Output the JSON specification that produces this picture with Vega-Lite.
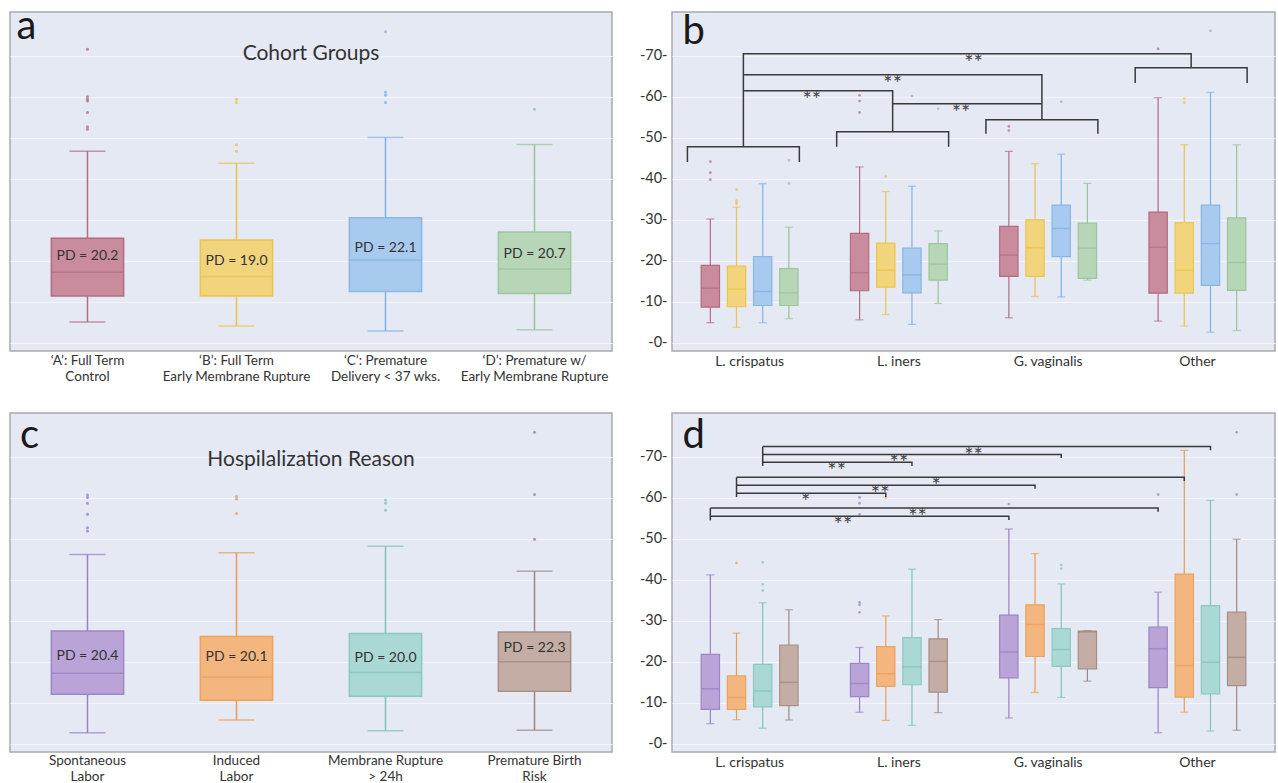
{
  "$schema": "https://vega.github.io/schema/vega-lite/v6.json",
  "background": "white",
  "padding": {"left": 9, "top": 6, "right": 0, "bottom": 0},
  "autosize": {"type": "pad"},
  "columns": 2,
  "spacing": {"row": 62, "column": 60},
  "bounds": "flush",
  "resolve": {"scale": {"x": "independent", "y": "independent", "fill": "independent", "stroke": "independent", "color": "independent", "xOffset": "independent"}},
  "datasets": {
    "boxA": [
      {"cat": "‘A’: Full Term\nControl", "g": "A", "lo": 5.1, "q1": 11.4, "med": 17.2, "q3": 25.5, "hi": 46.7, "pd": 20.2},
      {"cat": "‘B’: Full Term\nEarly Membrane Rupture", "g": "B", "lo": 4.1, "q1": 11.4, "med": 16.2, "q3": 25.1, "hi": 43.8, "pd": 19.0},
      {"cat": "‘C’: Premature\nDelivery < 37 wks.", "g": "C", "lo": 2.9, "q1": 12.5, "med": 20.2, "q3": 30.5, "hi": 50.1, "pd": 22.1},
      {"cat": "‘D’: Premature w/\nEarly Membrane Rupture", "g": "D", "lo": 3.2, "q1": 12.0, "med": 18.0, "q3": 27.0, "hi": 48.4, "pd": 20.7}
    ],
    "outA": [
      {"cat": "‘A’: Full Term\nControl", "g": "A", "v": 71.6},
      {"cat": "‘A’: Full Term\nControl", "g": "A", "v": 60.0},
      {"cat": "‘A’: Full Term\nControl", "g": "A", "v": 59.4},
      {"cat": "‘A’: Full Term\nControl", "g": "A", "v": 59.0},
      {"cat": "‘A’: Full Term\nControl", "g": "A", "v": 56.2},
      {"cat": "‘A’: Full Term\nControl", "g": "A", "v": 52.7},
      {"cat": "‘A’: Full Term\nControl", "g": "A", "v": 52.1},
      {"cat": "‘B’: Full Term\nEarly Membrane Rupture", "g": "B", "v": 59.4},
      {"cat": "‘B’: Full Term\nEarly Membrane Rupture", "g": "B", "v": 58.6},
      {"cat": "‘B’: Full Term\nEarly Membrane Rupture", "g": "B", "v": 48.3},
      {"cat": "‘B’: Full Term\nEarly Membrane Rupture", "g": "B", "v": 46.7},
      {"cat": "‘C’: Premature\nDelivery < 37 wks.", "g": "C", "v": 75.9},
      {"cat": "‘C’: Premature\nDelivery < 37 wks.", "g": "C", "v": 61.1},
      {"cat": "‘C’: Premature\nDelivery < 37 wks.", "g": "C", "v": 60.4},
      {"cat": "‘C’: Premature\nDelivery < 37 wks.", "g": "C", "v": 58.6},
      {"cat": "‘D’: Premature w/\nEarly Membrane Rupture", "g": "D", "v": 57.0}
    ],
    "boxC": [
      {"cat": "Spontaneous\nLabor", "g": "S", "lo": 2.7, "q1": 12.1, "med": 17.2, "q3": 27.5, "hi": 46.2, "pd": 20.4},
      {"cat": "Induced\nLabor", "g": "I", "lo": 5.8, "q1": 10.6, "med": 16.3, "q3": 26.2, "hi": 46.6, "pd": 20.1},
      {"cat": "Membrane Rupture\n> 24h", "g": "M", "lo": 3.2, "q1": 11.6, "med": 17.4, "q3": 26.9, "hi": 48.2, "pd": 20.0},
      {"cat": "Premature Birth\nRisk", "g": "P", "lo": 3.3, "q1": 12.8, "med": 20.0, "q3": 27.3, "hi": 42.1, "pd": 22.3}
    ],
    "outC": [
      {"cat": "Spontaneous\nLabor", "g": "S", "v": 60.7},
      {"cat": "Spontaneous\nLabor", "g": "S", "v": 60.1},
      {"cat": "Spontaneous\nLabor", "g": "S", "v": 58.7},
      {"cat": "Spontaneous\nLabor", "g": "S", "v": 56.0},
      {"cat": "Spontaneous\nLabor", "g": "S", "v": 52.7},
      {"cat": "Spontaneous\nLabor", "g": "S", "v": 51.9},
      {"cat": "Induced\nLabor", "g": "I", "v": 60.3},
      {"cat": "Induced\nLabor", "g": "I", "v": 59.7},
      {"cat": "Induced\nLabor", "g": "I", "v": 56.2},
      {"cat": "Membrane Rupture\n> 24h", "g": "M", "v": 59.5},
      {"cat": "Membrane Rupture\n> 24h", "g": "M", "v": 58.7},
      {"cat": "Membrane Rupture\n> 24h", "g": "M", "v": 57.0},
      {"cat": "Premature Birth\nRisk", "g": "P", "v": 76.0},
      {"cat": "Premature Birth\nRisk", "g": "P", "v": 60.8},
      {"cat": "Premature Birth\nRisk", "g": "P", "v": 49.9}
    ],
    "boxB": [
      {"taxon": "L. crispatus", "g": "A", "lo": 4.9, "q1": 8.7, "med": 13.3, "q3": 18.9, "hi": 30.2},
      {"taxon": "L. crispatus", "g": "B", "lo": 3.8, "q1": 8.8, "med": 13.1, "q3": 18.7, "hi": 33.1},
      {"taxon": "L. crispatus", "g": "C", "lo": 4.9, "q1": 9.1, "med": 12.5, "q3": 21.0, "hi": 38.8},
      {"taxon": "L. crispatus", "g": "D", "lo": 5.9, "q1": 9.1, "med": 12.2, "q3": 18.1, "hi": 28.2},
      {"taxon": "L. iners", "g": "A", "lo": 5.6, "q1": 12.7, "med": 17.1, "q3": 26.7, "hi": 42.9},
      {"taxon": "L. iners", "g": "B", "lo": 6.9, "q1": 13.6, "med": 17.7, "q3": 24.3, "hi": 36.9},
      {"taxon": "L. iners", "g": "C", "lo": 4.5, "q1": 12.2, "med": 16.6, "q3": 23.1, "hi": 38.2},
      {"taxon": "L. iners", "g": "D", "lo": 9.6, "q1": 15.3, "med": 19.2, "q3": 24.2, "hi": 27.3},
      {"taxon": "G. vaginalis", "g": "A", "lo": 6.1, "q1": 16.2, "med": 21.4, "q3": 28.4, "hi": 46.7},
      {"taxon": "G. vaginalis", "g": "B", "lo": 11.3, "q1": 16.2, "med": 23.2, "q3": 30.0, "hi": 43.7},
      {"taxon": "G. vaginalis", "g": "C", "lo": 11.2, "q1": 21.0, "med": 27.9, "q3": 33.6, "hi": 46.0},
      {"taxon": "G. vaginalis", "g": "D", "lo": 15.3, "q1": 15.7, "med": 23.1, "q3": 29.2, "hi": 38.9},
      {"taxon": "Other", "g": "A", "lo": 5.3, "q1": 12.1, "med": 23.3, "q3": 31.9, "hi": 59.8},
      {"taxon": "Other", "g": "B", "lo": 4.1, "q1": 12.1, "med": 17.7, "q3": 29.3, "hi": 48.3},
      {"taxon": "Other", "g": "C", "lo": 2.6, "q1": 14.0, "med": 24.2, "q3": 33.6, "hi": 61.1},
      {"taxon": "Other", "g": "D", "lo": 3.0, "q1": 12.8, "med": 19.6, "q3": 30.5, "hi": 48.3}
    ],
    "outB": [
      {"taxon": "L. crispatus", "g": "A", "v": 44.2},
      {"taxon": "L. crispatus", "g": "A", "v": 41.5},
      {"taxon": "L. crispatus", "g": "A", "v": 39.8},
      {"taxon": "L. crispatus", "g": "B", "v": 37.4},
      {"taxon": "L. crispatus", "g": "B", "v": 34.7},
      {"taxon": "L. crispatus", "g": "B", "v": 34.3},
      {"taxon": "L. crispatus", "g": "B", "v": 33.9},
      {"taxon": "L. crispatus", "g": "D", "v": 44.5},
      {"taxon": "L. crispatus", "g": "D", "v": 38.9},
      {"taxon": "L. iners", "g": "A", "v": 60.4},
      {"taxon": "L. iners", "g": "A", "v": 59.0},
      {"taxon": "L. iners", "g": "A", "v": 56.2},
      {"taxon": "L. iners", "g": "B", "v": 40.6},
      {"taxon": "L. iners", "g": "C", "v": 60.2},
      {"taxon": "L. iners", "g": "D", "v": 57.1},
      {"taxon": "G. vaginalis", "g": "A", "v": 52.8},
      {"taxon": "G. vaginalis", "g": "A", "v": 51.8},
      {"taxon": "G. vaginalis", "g": "C", "v": 58.8},
      {"taxon": "Other", "g": "A", "v": 71.7},
      {"taxon": "Other", "g": "B", "v": 59.6},
      {"taxon": "Other", "g": "B", "v": 58.6},
      {"taxon": "Other", "g": "C", "v": 76.1}
    ],
    "brB": [
      {"id": "g1", "o": 1, "taxon": "L. crispatus", "slot": "2", "y": 44.1},
      {"id": "g1", "o": 2, "taxon": "L. crispatus", "slot": "2", "y": 47.8},
      {"id": "g1", "o": 3, "taxon": "L. crispatus", "slot": "20", "y": 47.8},
      {"id": "g1", "o": 4, "taxon": "L. crispatus", "slot": "20", "y": 44.1},
      {"id": "g2", "o": 1, "taxon": "L. iners", "slot": "2", "y": 47.8},
      {"id": "g2", "o": 2, "taxon": "L. iners", "slot": "2", "y": 51.5},
      {"id": "g2", "o": 3, "taxon": "L. iners", "slot": "20", "y": 51.5},
      {"id": "g2", "o": 4, "taxon": "L. iners", "slot": "20", "y": 47.8},
      {"id": "g3", "o": 1, "taxon": "G. vaginalis", "slot": "2", "y": 51.0},
      {"id": "g3", "o": 2, "taxon": "G. vaginalis", "slot": "2", "y": 54.4},
      {"id": "g3", "o": 3, "taxon": "G. vaginalis", "slot": "20", "y": 54.4},
      {"id": "g3", "o": 4, "taxon": "G. vaginalis", "slot": "20", "y": 51.0},
      {"id": "g4", "o": 1, "taxon": "Other", "slot": "2", "y": 63.4},
      {"id": "g4", "o": 2, "taxon": "Other", "slot": "2", "y": 67.1},
      {"id": "g4", "o": 3, "taxon": "Other", "slot": "20", "y": 67.1},
      {"id": "g4", "o": 4, "taxon": "Other", "slot": "20", "y": 63.4},
      {"id": "s1", "o": 1, "taxon": "L. crispatus", "slot": "11", "y": 47.8},
      {"id": "s1", "o": 2, "taxon": "L. crispatus", "slot": "11", "y": 70.5},
      {"id": "s1", "o": 3, "taxon": "Other", "slot": "11", "y": 70.5},
      {"id": "s1", "o": 4, "taxon": "Other", "slot": "11", "y": 67.1},
      {"id": "s2", "o": 1, "taxon": "L. crispatus", "slot": "11", "y": 65.4},
      {"id": "s2", "o": 2, "taxon": "G. vaginalis", "slot": "11", "y": 65.4},
      {"id": "s2", "o": 3, "taxon": "G. vaginalis", "slot": "11", "y": 54.4},
      {"id": "s3", "o": 1, "taxon": "L. crispatus", "slot": "11", "y": 61.5},
      {"id": "s3", "o": 2, "taxon": "L. iners", "slot": "11", "y": 61.5},
      {"id": "s3", "o": 3, "taxon": "L. iners", "slot": "11", "y": 51.5},
      {"id": "s4", "o": 1, "taxon": "L. iners", "slot": "11", "y": 58.3},
      {"id": "s4", "o": 2, "taxon": "G. vaginalis", "slot": "11", "y": 58.3}
    ],
    "txB": [
      {"taxon": "L. iners", "slot": "24", "y": 70.5, "t": "**"},
      {"taxon": "L. iners", "slot": "11", "y": 65.4, "t": "**"},
      {"taxon": "L. crispatus", "slot": "22", "y": 61.5, "t": "**"},
      {"taxon": "L. iners", "slot": "22", "y": 58.3, "t": "**"}
    ],
    "boxD": [
      {"taxon": "L. crispatus", "g": "S", "lo": 4.9, "q1": 8.4, "med": 13.4, "q3": 21.8, "hi": 41.2},
      {"taxon": "L. crispatus", "g": "I", "lo": 5.9, "q1": 8.4, "med": 11.3, "q3": 16.6, "hi": 27.0},
      {"taxon": "L. crispatus", "g": "M", "lo": 3.8, "q1": 9.0, "med": 12.9, "q3": 19.4, "hi": 34.4},
      {"taxon": "L. crispatus", "g": "P", "lo": 5.8, "q1": 9.3, "med": 15.0, "q3": 24.1, "hi": 32.7},
      {"taxon": "L. iners", "g": "S", "lo": 7.7, "q1": 11.5, "med": 14.7, "q3": 19.6, "hi": 23.5},
      {"taxon": "L. iners", "g": "I", "lo": 5.7, "q1": 14.0, "med": 17.1, "q3": 23.7, "hi": 31.2},
      {"taxon": "L. iners", "g": "M", "lo": 4.5, "q1": 14.4, "med": 18.8, "q3": 25.9, "hi": 42.6},
      {"taxon": "L. iners", "g": "P", "lo": 7.6, "q1": 12.6, "med": 20.1, "q3": 25.6, "hi": 30.3},
      {"taxon": "G. vaginalis", "g": "S", "lo": 6.3, "q1": 16.1, "med": 22.4, "q3": 31.4, "hi": 52.4},
      {"taxon": "G. vaginalis", "g": "I", "lo": 12.5, "q1": 21.3, "med": 29.1, "q3": 33.9, "hi": 46.4},
      {"taxon": "G. vaginalis", "g": "M", "lo": 11.3, "q1": 18.9, "med": 23.0, "q3": 28.1, "hi": 39.0},
      {"taxon": "G. vaginalis", "g": "P", "lo": 15.3, "q1": 18.3, "med": 27.3, "q3": 27.5, "hi": 27.6},
      {"taxon": "Other", "g": "S", "lo": 2.7, "q1": 13.7, "med": 23.2, "q3": 28.5, "hi": 37.0},
      {"taxon": "Other", "g": "I", "lo": 7.7, "q1": 11.4, "med": 19.1, "q3": 41.4, "hi": 71.6},
      {"taxon": "Other", "g": "M", "lo": 3.1, "q1": 12.2, "med": 19.9, "q3": 33.7, "hi": 59.4},
      {"taxon": "Other", "g": "P", "lo": 3.3, "q1": 14.2, "med": 21.1, "q3": 32.1, "hi": 49.9}
    ],
    "outD": [
      {"taxon": "L. crispatus", "g": "I", "v": 44.1},
      {"taxon": "L. crispatus", "g": "M", "v": 44.3},
      {"taxon": "L. crispatus", "g": "M", "v": 38.9},
      {"taxon": "L. crispatus", "g": "M", "v": 37.4},
      {"taxon": "L. iners", "g": "S", "v": 60.1},
      {"taxon": "L. iners", "g": "S", "v": 58.7},
      {"taxon": "L. iners", "g": "S", "v": 56.0},
      {"taxon": "L. iners", "g": "S", "v": 34.5},
      {"taxon": "L. iners", "g": "S", "v": 33.9},
      {"taxon": "L. iners", "g": "S", "v": 32.1},
      {"taxon": "L. iners", "g": "I", "v": 60.1},
      {"taxon": "G. vaginalis", "g": "S", "v": 58.5},
      {"taxon": "G. vaginalis", "g": "M", "v": 43.6},
      {"taxon": "G. vaginalis", "g": "M", "v": 42.7},
      {"taxon": "Other", "g": "S", "v": 60.8},
      {"taxon": "Other", "g": "P", "v": 76.0},
      {"taxon": "Other", "g": "P", "v": 60.8}
    ],
    "brD": [
      {"id": "d1", "o": 1, "taxon": "L. crispatus", "g": "M", "y": 72.5},
      {"id": "d1", "o": 2, "taxon": "Other", "g": "M", "y": 72.5},
      {"id": "d1", "o": 3, "taxon": "Other", "g": "M", "y": 71.6},
      {"id": "d2", "o": 1, "taxon": "L. crispatus", "g": "M", "y": 70.6},
      {"id": "d2", "o": 2, "taxon": "G. vaginalis", "g": "M", "y": 70.6},
      {"id": "d2", "o": 3, "taxon": "G. vaginalis", "g": "M", "y": 69.7},
      {"id": "d3", "o": 1, "taxon": "L. crispatus", "g": "M", "y": 68.7},
      {"id": "d3", "o": 2, "taxon": "L. iners", "g": "M", "y": 68.7},
      {"id": "d3", "o": 3, "taxon": "L. iners", "g": "M", "y": 67.8},
      {"id": "dM", "o": 1, "taxon": "L. crispatus", "g": "M", "y": 72.5},
      {"id": "dM", "o": 2, "taxon": "L. crispatus", "g": "M", "y": 67.8},
      {"id": "d4", "o": 1, "taxon": "L. crispatus", "g": "I", "y": 65.0},
      {"id": "d4", "o": 2, "taxon": "Other", "g": "I", "y": 65.0},
      {"id": "d4", "o": 3, "taxon": "Other", "g": "I", "y": 64.1},
      {"id": "d5", "o": 1, "taxon": "L. crispatus", "g": "I", "y": 63.1},
      {"id": "d5", "o": 2, "taxon": "G. vaginalis", "g": "I", "y": 63.1},
      {"id": "d5", "o": 3, "taxon": "G. vaginalis", "g": "I", "y": 62.2},
      {"id": "d6", "o": 1, "taxon": "L. crispatus", "g": "I", "y": 61.1},
      {"id": "d6", "o": 2, "taxon": "L. iners", "g": "I", "y": 61.1},
      {"id": "d6", "o": 3, "taxon": "L. iners", "g": "I", "y": 60.2},
      {"id": "dI", "o": 1, "taxon": "L. crispatus", "g": "I", "y": 65.0},
      {"id": "dI", "o": 2, "taxon": "L. crispatus", "g": "I", "y": 60.2},
      {"id": "d7", "o": 1, "taxon": "L. crispatus", "g": "S", "y": 57.5},
      {"id": "d7", "o": 2, "taxon": "Other", "g": "S", "y": 57.5},
      {"id": "d7", "o": 3, "taxon": "Other", "g": "S", "y": 56.6},
      {"id": "d8", "o": 1, "taxon": "L. crispatus", "g": "S", "y": 55.5},
      {"id": "d8", "o": 2, "taxon": "G. vaginalis", "g": "S", "y": 55.5},
      {"id": "d8", "o": 3, "taxon": "G. vaginalis", "g": "S", "y": 54.6},
      {"id": "dS", "o": 1, "taxon": "L. crispatus", "g": "S", "y": 57.5},
      {"id": "dS", "o": 2, "taxon": "L. crispatus", "g": "S", "y": 54.5}
    ],
    "txD": [
      {"taxon": "L. iners", "slot": "24", "y": 72.5, "t": "**"},
      {"taxon": "L. iners", "slot": "12", "y": 70.6, "t": "**"},
      {"taxon": "L. iners", "slot": "2", "y": 68.7, "t": "**"},
      {"taxon": "L. iners", "slot": "18", "y": 65.0, "t": "*"},
      {"taxon": "L. iners", "slot": "9", "y": 63.1, "t": "**"},
      {"taxon": "L. crispatus", "slot": "21", "y": 61.1, "t": "*"},
      {"taxon": "L. iners", "slot": "15", "y": 57.5, "t": "**"},
      {"taxon": "L. iners", "slot": "3", "y": 55.5, "t": "**"}
    ]
  },
  "concat": [
    {
      "width": 602, "height": 339,
      "title": {"text": "Cohort Groups", "orient": "top", "anchor": "middle", "offset": -68, "baseline": "middle", "fontSize": 21, "fontWeight": "normal", "font": "Lato", "color": "#333333"},
      "layer": [
        {"data": {"name": "boxA"}, "mark": {"type": "rule", "strokeWidth": 1.5},
         "encoding": {
           "x": {"field": "cat", "type": "nominal", "title": null, "scale": {"domain": ["‘A’: Full Term\nControl", "‘B’: Full Term\nEarly Membrane Rupture", "‘C’: Premature\nDelivery < 37 wks.", "‘D’: Premature w/\nEarly Membrane Rupture"], "paddingInner": 0, "paddingOuter": 0.02}, "axis": {"labelExpr": "split(datum.label, '\\n')", "labelLineHeight": 16.5, "labelFontSize": 13.5, "labelPadding": 2, "labelBaseline": "top"}},
           "y": {"field": "lo", "type": "quantitative", "title": null, "scale": {"domain": [-2, 80.7], "nice": false, "zero": false}, "axis": {"labels": false, "values": [0, 10, 20, 30, 40, 50, 60, 70]}},
           "y2": {"field": "hi"},
           "color": {"field": "g", "type": "nominal", "legend": null, "scale": {"domain": ["A", "B", "C", "D"], "range": ["#b36c81", "#ebc24c", "#80b1e4", "#98c39a"]}}
         }},
        {"data": {"name": "boxA"}, "mark": {"type": "bar", "width": {"band": 0.485}, "strokeWidth": 1.5},
         "encoding": {
           "x": {"field": "cat", "type": "nominal"},
           "y": {"field": "q1", "type": "quantitative"},
           "y2": {"field": "q3"},
           "fill": {"field": "g", "type": "nominal", "legend": null, "scale": {"domain": ["A", "B", "C", "D"], "range": ["#c98c9d", "#f2d47c", "#a8caef", "#b7d6b8"]}},
           "stroke": {"field": "g", "type": "nominal", "legend": null, "scale": {"domain": ["A", "B", "C", "D"], "range": ["#b46a80", "#ecc44e", "#88b6e6", "#9bc59d"]}}
         }},
        {"data": {"name": "boxA"}, "mark": {"type": "tick", "size": 36, "thickness": 1.5},
         "encoding": {"x": {"field": "cat", "type": "nominal"}, "y": {"field": "lo", "type": "quantitative"}, "color": {"field": "g", "type": "nominal"}}},
        {"data": {"name": "boxA"}, "mark": {"type": "tick", "size": 36, "thickness": 1.5},
         "encoding": {"x": {"field": "cat", "type": "nominal"}, "y": {"field": "hi", "type": "quantitative"}, "color": {"field": "g", "type": "nominal"}}},
        {"data": {"name": "boxA"}, "mark": {"type": "tick", "size": 72, "thickness": 1.5},
         "encoding": {"x": {"field": "cat", "type": "nominal"}, "y": {"field": "med", "type": "quantitative"}, "color": {"field": "g", "type": "nominal"}}},
        {"data": {"name": "boxA"}, "mark": {"type": "text", "fontSize": 14, "font": "Lato", "baseline": "alphabetic", "color": "#333333", "text": {"expr": "'PD = ' + format(datum.pd, '.1f')"}},
         "encoding": {"x": {"field": "cat", "type": "nominal"}, "y": {"field": "pd", "type": "quantitative"}}},
        {"data": {"name": "outA"}, "mark": {"type": "point", "filled": true, "size": 9, "opacity": 0.8},
         "encoding": {"x": {"field": "cat", "type": "nominal"}, "y": {"field": "v", "type": "quantitative"}, "color": {"field": "g", "type": "nominal"}}},
        {"data": {"values": [{}]}, "mark": {"type": "text", "text": "a", "fontSize": 40, "font": "Lato", "dx": -61, "baseline": "alphabetic", "color": "#1a1a1a"},
         "encoding": {"x": {"datum": "‘A’: Full Term\nControl", "type": "nominal"}, "y": {"datum": 74, "type": "quantitative"}}}
      ]
    },
    {
      "width": 603, "height": 339,
      "layer": [
        {"layer": [
          {"data": {"name": "boxB"}, "mark": {"type": "rule", "strokeWidth": 1.2},
           "encoding": {
             "x": {"field": "taxon", "type": "nominal", "title": null, "scale": {"domain": ["L. crispatus", "L. iners", "G. vaginalis", "Other"], "paddingInner": 0, "paddingOuter": 0.02}, "axis": {"labelPadding": 3}},
             "xOffset": {"field": "g", "type": "nominal", "scale": {"domain": ["A", "B", "C", "D"], "paddingInner": 0.3, "paddingOuter": 1.02}},
             "y": {"field": "lo", "type": "quantitative", "title": null, "scale": {"domain": [-2, 80.7], "nice": false, "zero": false}, "axis": {"values": [0, 10, 20, 30, 40, 50, 60, 70]}},
             "y2": {"field": "hi"},
             "color": {"field": "g", "type": "nominal", "legend": null, "scale": {"domain": ["A", "B", "C", "D"], "range": ["#b36c81", "#ebc24c", "#80b1e4", "#98c39a"]}}
           }},
          {"data": {"name": "boxB"}, "mark": {"type": "bar", "strokeWidth": 1.2},
           "encoding": {
             "x": {"field": "taxon", "type": "nominal"},
             "xOffset": {"field": "g", "type": "nominal"},
             "y": {"field": "q1", "type": "quantitative"},
             "y2": {"field": "q3"},
             "fill": {"field": "g", "type": "nominal", "legend": null, "scale": {"domain": ["A", "B", "C", "D"], "range": ["#c98c9d", "#f2d47c", "#a8caef", "#b7d6b8"]}},
             "stroke": {"field": "g", "type": "nominal", "legend": null, "scale": {"domain": ["A", "B", "C", "D"], "range": ["#b46a80", "#ecc44e", "#88b6e6", "#9bc59d"]}}
           }},
          {"data": {"name": "boxB"}, "mark": {"type": "tick", "size": 8, "thickness": 1.2},
           "encoding": {"x": {"field": "taxon", "type": "nominal"}, "xOffset": {"field": "g", "type": "nominal"}, "y": {"field": "lo", "type": "quantitative"}, "color": {"field": "g", "type": "nominal"}}},
          {"data": {"name": "boxB"}, "mark": {"type": "tick", "size": 8, "thickness": 1.2},
           "encoding": {"x": {"field": "taxon", "type": "nominal"}, "xOffset": {"field": "g", "type": "nominal"}, "y": {"field": "hi", "type": "quantitative"}, "color": {"field": "g", "type": "nominal"}}},
          {"data": {"name": "boxB"}, "mark": {"type": "tick", "size": 18, "thickness": 1.5},
           "encoding": {"x": {"field": "taxon", "type": "nominal"}, "xOffset": {"field": "g", "type": "nominal"}, "y": {"field": "med", "type": "quantitative"}, "color": {"field": "g", "type": "nominal"}}},
          {"data": {"name": "outB"}, "mark": {"type": "point", "filled": true, "size": 7, "opacity": 0.75},
           "encoding": {"x": {"field": "taxon", "type": "nominal"}, "xOffset": {"field": "g", "type": "nominal"}, "y": {"field": "v", "type": "quantitative"}, "color": {"field": "g", "type": "nominal"}}}
        ]},
        {"layer": [
          {"data": {"name": "brB"}, "mark": {"type": "line", "color": "#3a3a3a", "strokeWidth": 1.5},
           "encoding": {
             "x": {"field": "taxon", "type": "nominal"},
             "xOffset": {"field": "slot", "type": "nominal", "scale": {"type": "point", "padding": 0, "domain": ["0","1","2","3","4","5","6","7","8","9","10","11","12","13","14","15","16","17","18","19","20","21","22","23","24"]}},
             "y": {"field": "y", "type": "quantitative"},
             "detail": {"field": "id", "type": "nominal"},
             "order": {"field": "o", "type": "quantitative"}
           }},
          {"data": {"name": "txB"}, "mark": {"type": "text", "fontSize": 22, "font": "Lato", "baseline": "top", "dy": -1, "color": "#444444"},
           "encoding": {"x": {"field": "taxon", "type": "nominal"}, "xOffset": {"field": "slot", "type": "nominal"}, "y": {"field": "y", "type": "quantitative"}, "text": {"field": "t"}}},
          {"data": {"values": [{}]}, "mark": {"type": "text", "text": "b", "fontSize": 40, "font": "Lato", "baseline": "alphabetic", "color": "#1a1a1a"},
           "encoding": {"x": {"datum": "L. crispatus", "type": "nominal"}, "xOffset": {"datum": "3", "type": "nominal"}, "y": {"datum": 72.9, "type": "quantitative"}}}
        ]}
      ],
      "resolve": {"scale": {"xOffset": "independent"}}
    },
    {
      "width": 602, "height": 339,
      "title": {"text": "Hospilalization Reason", "orient": "top", "anchor": "middle", "offset": -68, "baseline": "middle", "fontSize": 21, "fontWeight": "normal", "font": "Lato", "color": "#333333"},
      "layer": [
        {"data": {"name": "boxC"}, "mark": {"type": "rule", "strokeWidth": 1.5},
         "encoding": {
           "x": {"field": "cat", "type": "nominal", "title": null, "scale": {"domain": ["Spontaneous\nLabor", "Induced\nLabor", "Membrane Rupture\n> 24h", "Premature Birth\nRisk"], "paddingInner": 0, "paddingOuter": 0.02}, "axis": {"labelExpr": "split(datum.label, '\\n')", "labelLineHeight": 16, "labelFontSize": 13.5, "labelPadding": 1, "labelBaseline": "top"}},
           "y": {"field": "lo", "type": "quantitative", "title": null, "scale": {"domain": [-2, 80.7], "nice": false, "zero": false}, "axis": {"labels": false, "values": [0, 10, 20, 30, 40, 50, 60, 70]}},
           "y2": {"field": "hi"},
           "color": {"field": "g", "type": "nominal", "legend": null, "scale": {"domain": ["S", "I", "M", "P"], "range": ["#9a80c4", "#ec9c52", "#80c2bc", "#a08880"]}}
         }},
        {"data": {"name": "boxC"}, "mark": {"type": "bar", "width": {"band": 0.485}, "strokeWidth": 1.5},
         "encoding": {
           "x": {"field": "cat", "type": "nominal"},
           "y": {"field": "q1", "type": "quantitative"},
           "y2": {"field": "q3"},
           "fill": {"field": "g", "type": "nominal", "legend": null, "scale": {"domain": ["S", "I", "M", "P"], "range": ["#b9a3d7", "#f3b67e", "#aad8d4", "#c4ada4"]}},
           "stroke": {"field": "g", "type": "nominal", "legend": null, "scale": {"domain": ["S", "I", "M", "P"], "range": ["#9e85c6", "#eea25c", "#8cc8c2", "#a68f86"]}}
         }},
        {"data": {"name": "boxC"}, "mark": {"type": "tick", "size": 36, "thickness": 1.5},
         "encoding": {"x": {"field": "cat", "type": "nominal"}, "y": {"field": "lo", "type": "quantitative"}, "color": {"field": "g", "type": "nominal"}}},
        {"data": {"name": "boxC"}, "mark": {"type": "tick", "size": 36, "thickness": 1.5},
         "encoding": {"x": {"field": "cat", "type": "nominal"}, "y": {"field": "hi", "type": "quantitative"}, "color": {"field": "g", "type": "nominal"}}},
        {"data": {"name": "boxC"}, "mark": {"type": "tick", "size": 72, "thickness": 1.5},
         "encoding": {"x": {"field": "cat", "type": "nominal"}, "y": {"field": "med", "type": "quantitative"}, "color": {"field": "g", "type": "nominal"}}},
        {"data": {"name": "boxC"}, "mark": {"type": "text", "fontSize": 14, "font": "Lato", "baseline": "alphabetic", "color": "#333333", "text": {"expr": "'PD = ' + format(datum.pd, '.1f')"}},
         "encoding": {"x": {"field": "cat", "type": "nominal"}, "y": {"field": "pd", "type": "quantitative"}}},
        {"data": {"name": "outC"}, "mark": {"type": "point", "filled": true, "size": 9, "opacity": 0.8},
         "encoding": {"x": {"field": "cat", "type": "nominal"}, "y": {"field": "v", "type": "quantitative"}, "color": {"field": "g", "type": "nominal"}}},
        {"data": {"values": [{}]}, "mark": {"type": "text", "text": "c", "fontSize": 40, "font": "Lato", "dx": -58, "baseline": "alphabetic", "color": "#1a1a1a"},
         "encoding": {"x": {"datum": "Spontaneous\nLabor", "type": "nominal"}, "y": {"datum": 72.1, "type": "quantitative"}}}
      ]
    },
    {
      "width": 603, "height": 339,
      "layer": [
        {"layer": [
          {"data": {"name": "boxD"}, "mark": {"type": "rule", "strokeWidth": 1.2},
           "encoding": {
             "x": {"field": "taxon", "type": "nominal", "title": null, "scale": {"domain": ["L. crispatus", "L. iners", "G. vaginalis", "Other"], "paddingInner": 0, "paddingOuter": 0.02}, "axis": {"labelPadding": 3}},
             "xOffset": {"field": "g", "type": "nominal", "scale": {"domain": ["S", "I", "M", "P"], "paddingInner": 0.3, "paddingOuter": 1.02}},
             "y": {"field": "lo", "type": "quantitative", "title": null, "scale": {"domain": [-2, 80.7], "nice": false, "zero": false}, "axis": {"values": [0, 10, 20, 30, 40, 50, 60, 70]}},
             "y2": {"field": "hi"},
             "color": {"field": "g", "type": "nominal", "legend": null, "scale": {"domain": ["S", "I", "M", "P"], "range": ["#9a80c4", "#ec9c52", "#80c2bc", "#a08880"]}}
           }},
          {"data": {"name": "boxD"}, "mark": {"type": "bar", "strokeWidth": 1.2},
           "encoding": {
             "x": {"field": "taxon", "type": "nominal"},
             "xOffset": {"field": "g", "type": "nominal"},
             "y": {"field": "q1", "type": "quantitative"},
             "y2": {"field": "q3"},
             "fill": {"field": "g", "type": "nominal", "legend": null, "scale": {"domain": ["S", "I", "M", "P"], "range": ["#b9a3d7", "#f3b67e", "#aad8d4", "#c4ada4"]}},
             "stroke": {"field": "g", "type": "nominal", "legend": null, "scale": {"domain": ["S", "I", "M", "P"], "range": ["#9e85c6", "#eea25c", "#8cc8c2", "#a68f86"]}}
           }},
          {"data": {"name": "boxD"}, "mark": {"type": "tick", "size": 8, "thickness": 1.2},
           "encoding": {"x": {"field": "taxon", "type": "nominal"}, "xOffset": {"field": "g", "type": "nominal"}, "y": {"field": "lo", "type": "quantitative"}, "color": {"field": "g", "type": "nominal"}}},
          {"data": {"name": "boxD"}, "mark": {"type": "tick", "size": 8, "thickness": 1.2},
           "encoding": {"x": {"field": "taxon", "type": "nominal"}, "xOffset": {"field": "g", "type": "nominal"}, "y": {"field": "hi", "type": "quantitative"}, "color": {"field": "g", "type": "nominal"}}},
          {"data": {"name": "boxD"}, "mark": {"type": "tick", "size": 18, "thickness": 1.5},
           "encoding": {"x": {"field": "taxon", "type": "nominal"}, "xOffset": {"field": "g", "type": "nominal"}, "y": {"field": "med", "type": "quantitative"}, "color": {"field": "g", "type": "nominal"}}},
          {"data": {"name": "outD"}, "mark": {"type": "point", "filled": true, "size": 7, "opacity": 0.75},
           "encoding": {"x": {"field": "taxon", "type": "nominal"}, "xOffset": {"field": "g", "type": "nominal"}, "y": {"field": "v", "type": "quantitative"}, "color": {"field": "g", "type": "nominal"}}},
          {"data": {"name": "brD"}, "mark": {"type": "line", "color": "#3a3a3a", "strokeWidth": 1.5},
           "encoding": {
             "x": {"field": "taxon", "type": "nominal"},
             "xOffset": {"field": "g", "type": "nominal"},
             "y": {"field": "y", "type": "quantitative"},
             "detail": {"field": "id", "type": "nominal"},
             "order": {"field": "o", "type": "quantitative"}
           }}
        ]},
        {"layer": [
          {"data": {"name": "txD"}, "mark": {"type": "text", "fontSize": 22, "font": "Lato", "baseline": "top", "dy": -1, "color": "#444444"},
           "encoding": {"x": {"field": "taxon", "type": "nominal"}, "xOffset": {"field": "slot", "type": "nominal", "scale": {"type": "point", "padding": 0, "domain": ["0","1","2","3","4","5","6","7","8","9","10","11","12","13","14","15","16","17","18","19","20","21","22","23","24"]}}, "y": {"field": "y", "type": "quantitative"}, "text": {"field": "t"}}},
          {"data": {"values": [{}]}, "mark": {"type": "text", "text": "d", "fontSize": 40, "font": "Lato", "baseline": "alphabetic", "color": "#1a1a1a"},
           "encoding": {"x": {"datum": "L. crispatus", "type": "nominal"}, "xOffset": {"datum": "3", "type": "nominal"}, "y": {"datum": 72.1, "type": "quantitative"}}}
        ]}
      ],
      "resolve": {"scale": {"xOffset": "independent"}}
    }
  ],
  "config": {
    "font": "Lato",
    "view": {"fill": "#e4e9f4", "stroke": "#a9a9a9", "strokeWidth": 1.5},
    "axis": {"domain": false, "ticks": false, "labelColor": "#333333", "labelFont": "Lato", "labelFontSize": 14},
    "axisX": {"grid": false, "labelAngle": 0},
    "axisY": {"grid": true, "gridColor": "#f3f5fb", "gridWidth": 1.2, "labelExpr": "'-' + datum.value + '-'", "labelPadding": 5, "labelFontSize": 14.5}
  }
}
